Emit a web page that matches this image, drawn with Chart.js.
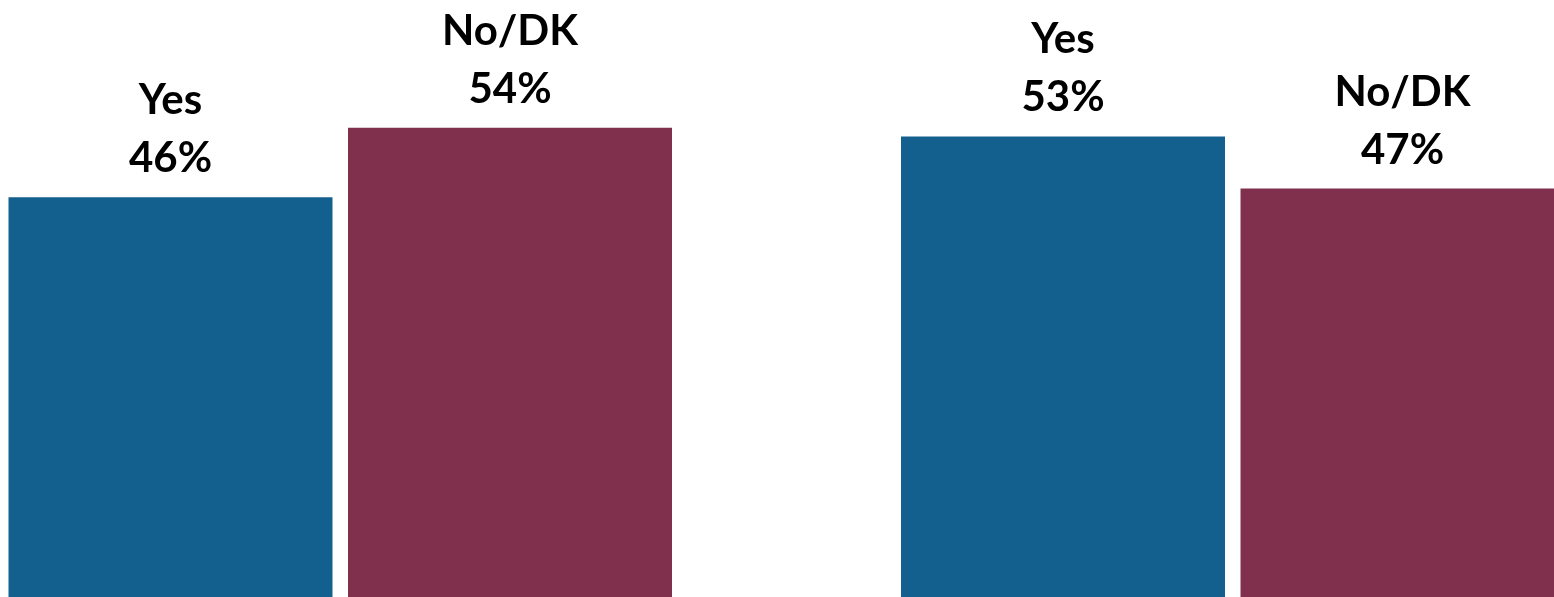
<!DOCTYPE html>
<html>
<head>
<meta charset="utf-8">
<script src="https://cdn.jsdelivr.net/npm/chart.js@4"></script>
<style>
    html, body { margin: 0; padding: 0; background: #fff; overflow: hidden; }
    body { width: 1554px; height: 597px; position: relative; }
    #wrap { position: absolute; left: -106px; top: 0; width: 1785px; height: 597px; }
</style>
</head>
<body>
<div id="wrap"><canvas id="myChart" width="1785" height="597"></canvas></div>
<script>
    // two survey questions, answers split Yes vs No/DK
    let categories = ['Q1', 'Q2'];
    let seriesNames = ['Yes', 'No/DK'];
    let yesValues = [46, 53];
    let noValues = [54, 47];

    // value labels over each bar: name on top, percent below
    let barLabels = {
        id: 'barLabels',
        afterDatasetsDraw(chart) {
            let c = chart.ctx;
            c.save();
            c.fillStyle = '#000';
            c.textAlign = 'center';
            c.textBaseline = 'alphabetic';
            c.font = 'bold 42px Lato';
            chart.data.datasets.forEach((ds, i) => {
                chart.getDatasetMeta(i).data.forEach((bar, j) => {
                    c.fillText(ds.data[j] + '%', bar.x, bar.y - 25);
                    c.fillText(ds.label, bar.x, bar.y - 83);
                });
            });
            c.restore();
        }
    };

    let ctx = document.getElementById('myChart');
    let myChart = new Chart(ctx, {
        type: 'bar',
        data: {
            labels: categories,
            datasets: [{
                    label: seriesNames[0],
                    data: yesValues,
                    backgroundColor: '#13608F'
                },
                {
                    label: seriesNames[1],
                    data: noValues,
                    backgroundColor: '#80304D'
                }
            ]
        },
        options: {
            responsive: false,
            animation: false,
            layout: { padding: 0 },
            datasets: {
                bar: { categoryPercentage: 0.7608, barPercentage: 0.9543, borderWidth: 0 }
            },
            plugins: {
                legend: { display: false },
                tooltip: { enabled: false }
            },
            scales: {
                x: { display: false },
                y: { display: false, min: 0, max: 68.7 }
            }
        },
        plugins: [barLabels]
    });
</script>
</body>
</html>
